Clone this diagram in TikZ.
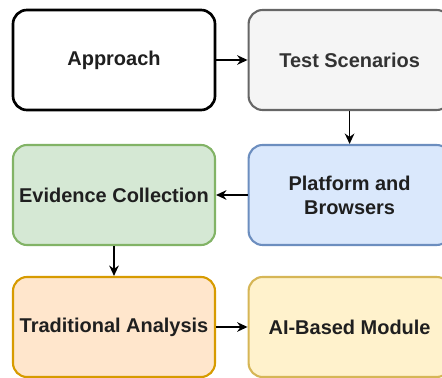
\documentclass[tikz,border=0pt]{standalone}
\usepackage{fontspec}
\setmainfont{Liberation Sans}
\usetikzlibrary{arrows.meta,positioning}
\definecolor{grayfill}{HTML}{F5F5F5}
\definecolor{grayline}{HTML}{666666}
\definecolor{graytext}{HTML}{333333}
\definecolor{bluefill}{HTML}{DAE8FC}
\definecolor{blueline}{HTML}{6C8EBF}
\definecolor{greenfill}{HTML}{D5E8D4}
\definecolor{greenline}{HTML}{82B366}
\definecolor{orangefill}{HTML}{FFE6CC}
\definecolor{orangeline}{HTML}{D79B00}
\definecolor{yellowfill}{HTML}{FFF2CC}
\definecolor{yellowline}{HTML}{D6B656}

\begin{document}
\begin{tikzpicture}[font=\fontsize{14.2}{17}\selectfont\bfseries,>={Stealth[length=0.26cm,width=0.24cm]},
  box/.style={draw,line width=1.5pt,rounded corners=0.35cm,minimum width=5.05cm,minimum height=2.5cm,align=center,inner sep=2pt,text=black!88}]
  \useasboundingbox (0,0) rectangle (11.05,-9.45);
  \clip (0,0) rectangle (11.05,-9.45);
  % left column
  \node[box,draw=black,line width=1.9pt,fill=white] (appr) at (2.85,-1.5) {Approach};
  \node[box,draw=greenline,fill=greenfill] (evid) at (2.85,-4.875) {Evidence Collection};
  \node[box,draw=orangeline,fill=orangefill] (trad) at (2.85,-8.175) {Traditional Analysis};
  % right column, runs off the edge
  \node[box,draw=grayline,fill=grayfill,text=graytext] (scen) at (8.74,-1.5) {Test Scenarios};
  \node[box,draw=blueline,fill=bluefill] (plat) at (8.74,-4.875) {Platform and\\Browsers};
  \node[box,draw=yellowline,fill=yellowfill] (aimod) at (8.74,-8.175) {AI-Based Module};
  \draw[->,line width=1.1pt] (appr.east) -- (scen.west);
  \draw[->,line width=1.1pt] (scen.south) -- (plat.north);
  \draw[->,line width=1.1pt] (plat.west) -- (evid.east);
  \draw[->,line width=1.1pt] (evid.south) -- (trad.north);
  \draw[->,line width=1.1pt] (trad.east) -- (aimod.west);
\end{tikzpicture}
\end{document}
